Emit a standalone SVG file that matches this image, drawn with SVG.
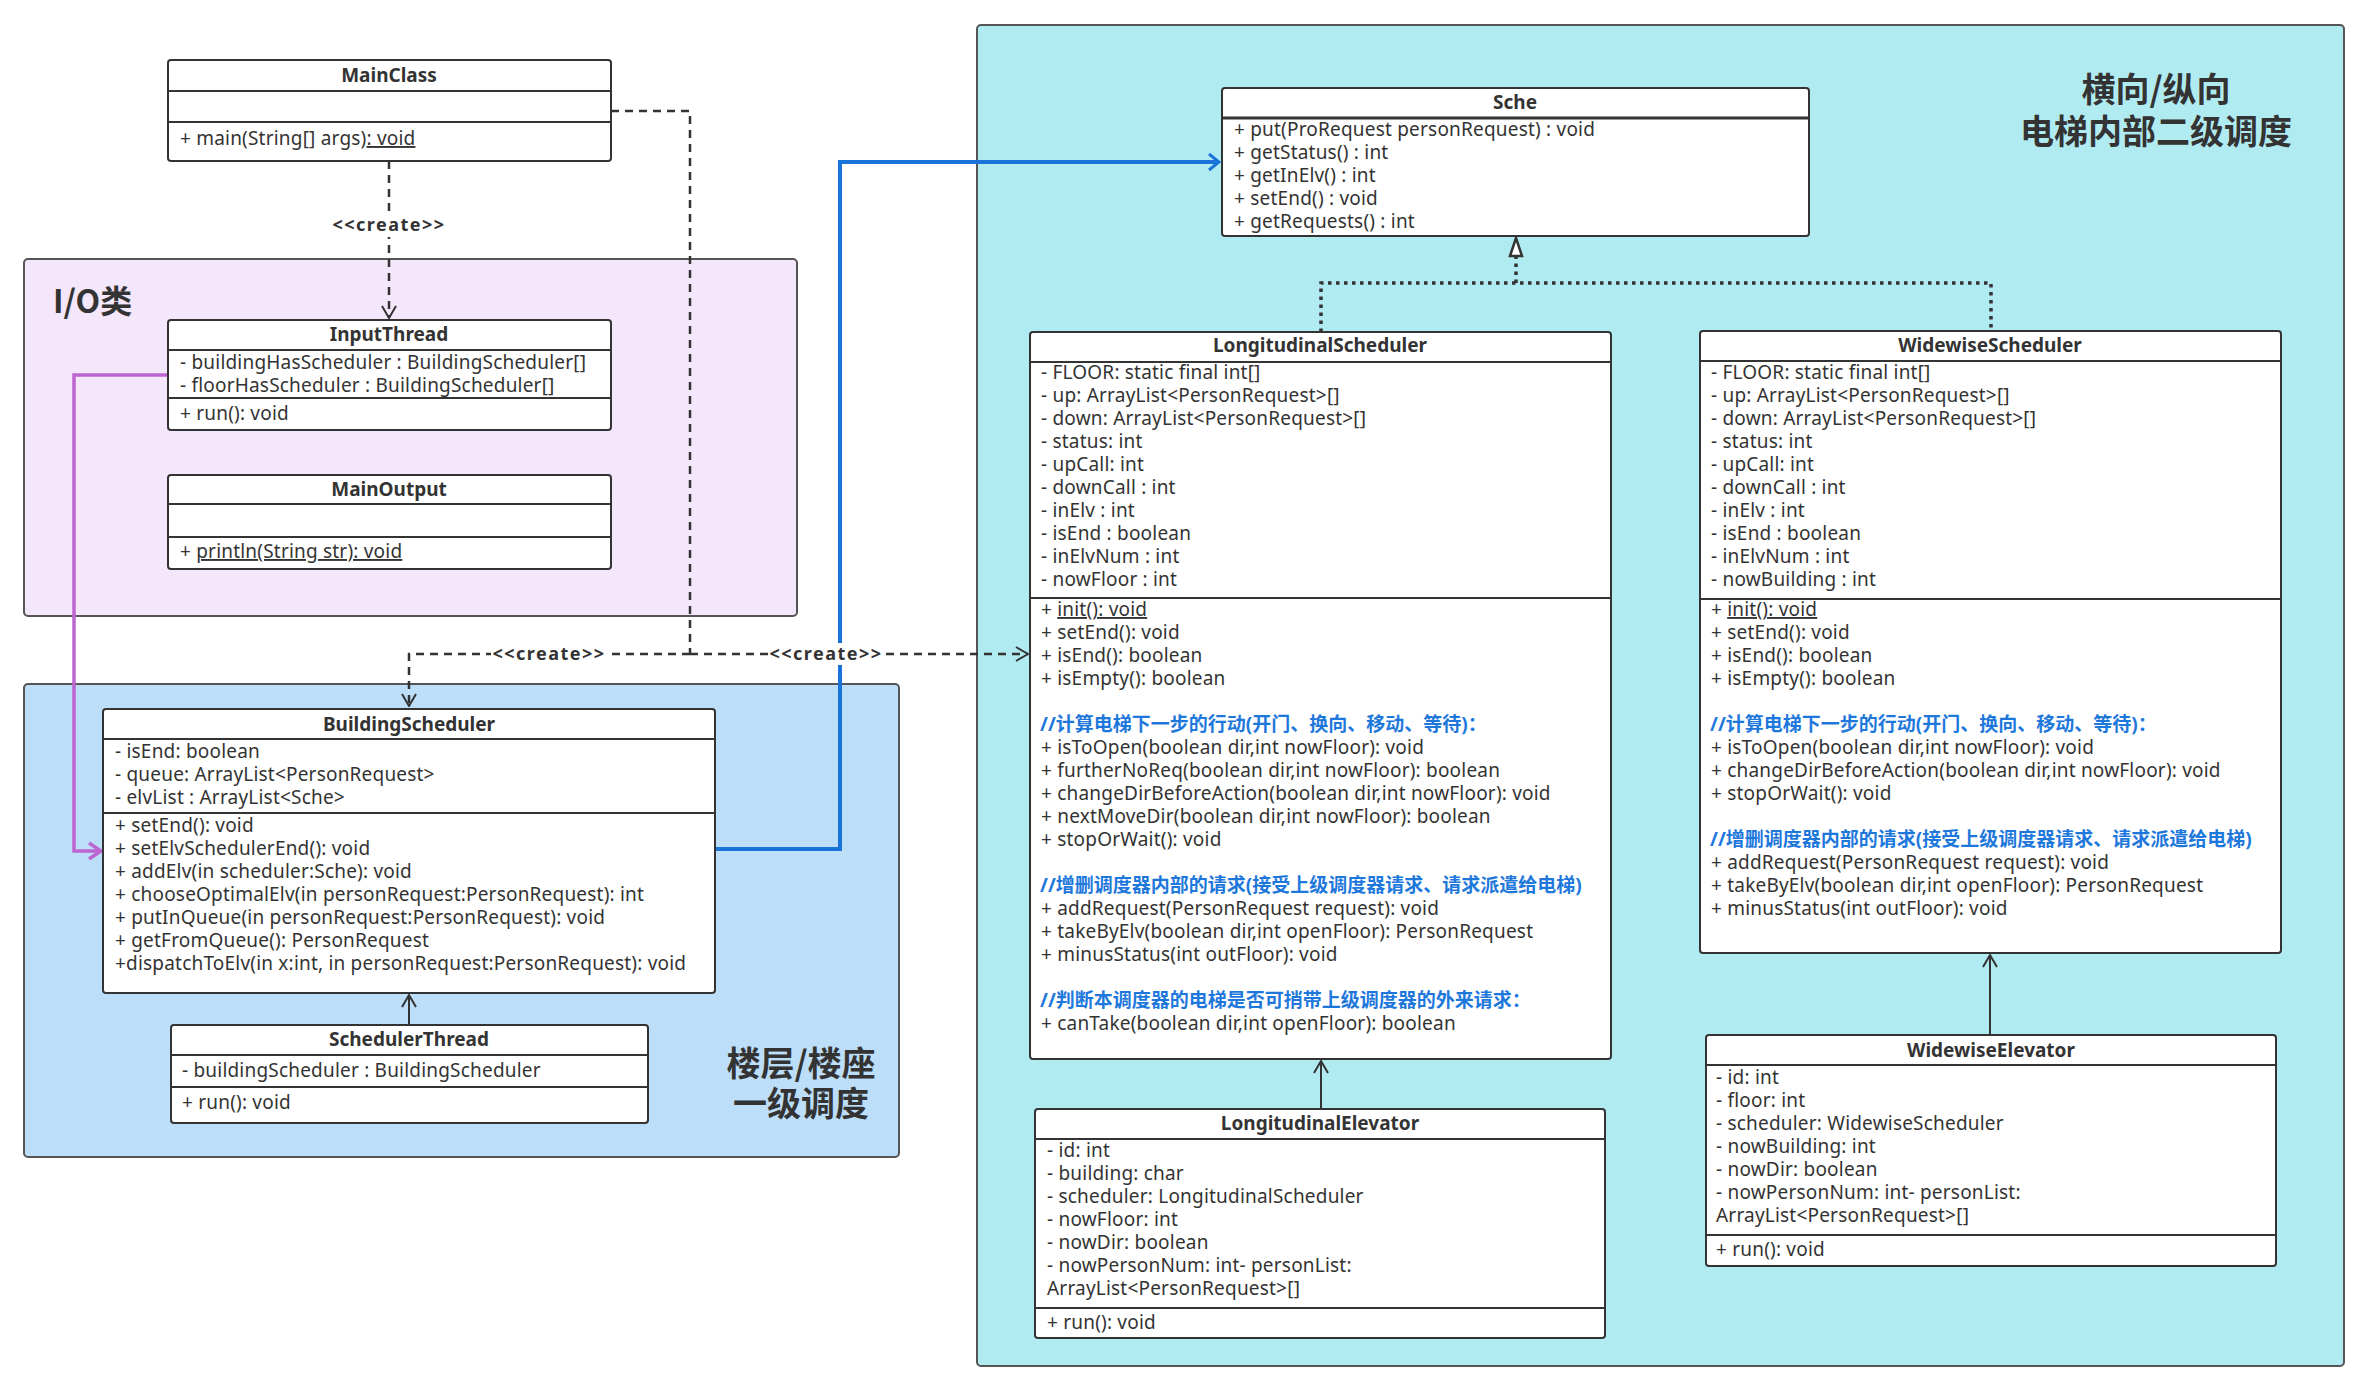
<svg xmlns="http://www.w3.org/2000/svg" width="2369" height="1390" viewBox="0 0 2369 1390">
<style>
text{font-family:"Noto Sans","Noto Sans CJK SC",sans-serif;font-size:19px;fill:#333;letter-spacing:0.2px}
.t{font-weight:bold;text-anchor:middle;letter-spacing:0}
.c{fill:#1e78dc;font-weight:bold;letter-spacing:0}
.lbl{font-weight:bold;text-anchor:middle;letter-spacing:1.5px;font-size:18px}
.grp{font-weight:bold;font-size:34px;fill:#333;text-anchor:middle;letter-spacing:0;font-family:"Noto Sans CJK SC","Noto Sans",sans-serif}
.box{fill:#fff;stroke:#333;stroke-width:2}
.dv{stroke:#333;stroke-width:2}
.u{text-decoration:underline}
.dash{fill:none;stroke:#333;stroke-width:2.5;stroke-dasharray:8 6}
.dot{fill:none;stroke:#333;stroke-width:3.5;stroke-dasharray:3.5 4.5}
.solid{fill:none;stroke:#333;stroke-width:2}
</style>
<defs>
<marker id="open" viewBox="0 0 14 16" refX="13" refY="8" markerWidth="14" markerHeight="16" orient="auto" markerUnits="userSpaceOnUse"><path d="M1,1 L13,8 L1,15" fill="none" stroke="#333" stroke-width="2"/></marker>
<marker id="openP" viewBox="0 0 16 20" refX="14" refY="10" markerWidth="16" markerHeight="20" orient="auto" markerUnits="userSpaceOnUse"><path d="M2,2 L14,10 L2,18" fill="none" stroke="#bd66d1" stroke-width="3.5"/></marker>
<marker id="openB" viewBox="0 0 14 20" refX="12" refY="10" markerWidth="14" markerHeight="20" orient="auto" markerUnits="userSpaceOnUse"><path d="M2,2 L12,10 L2,18" fill="none" stroke="#1a73d8" stroke-width="3"/></marker>
<marker id="tri" viewBox="0 0 22 16" refX="20" refY="8" markerWidth="22" markerHeight="16" orient="auto" markerUnits="userSpaceOnUse"><path d="M2,2 L20,8 L2,14 Z" fill="#fff" stroke="#333" stroke-width="2.5"/></marker>
</defs>
<rect width="2369" height="1390" fill="#fff"/>

<g id="group-io">
<rect x="24" y="259" width="773" height="357" rx="4" fill="#f4e7fb" stroke="#555" stroke-width="2"/>
<text x="53" y="313" style="font-family:'Noto Sans CJK SC',sans-serif;font-size:32px;font-weight:bold;letter-spacing:0">I/O类</text>
</g>
<g id="group-building">
<rect x="24" y="684" width="875" height="473" rx="4" fill="#bcdef9" stroke="#555" stroke-width="2"/>
<text class="grp" x="801" y="1076">楼层/楼座<tspan x="801" dy="40">一级调度</tspan></text>
</g>
<g id="group-elevator">
<rect x="977" y="25" width="1367" height="1341" rx="4" fill="#b1ebf2" stroke="#555" stroke-width="2"/>
<text class="grp" x="2156" y="102">横向/纵向<tspan x="2156" dy="42">电梯内部二级调度</tspan></text>
</g>

<g id="connectors">
<path class="dash" d="M389,161 L389,318" marker-end="url(#open)"/>
<path class="dash" d="M611,111 L690,111 L690,654"/>
<path class="dash" d="M690,654 L409,654 L409,706" marker-end="url(#open)"/>
<path class="dash" d="M690,654 L1028,654" marker-end="url(#open)"/>
<path d="M715,849 L840,849 L840,162 L1219,162" fill="none" stroke="#1a73d8" stroke-width="4" marker-end="url(#openB)"/>
<path d="M168,375 L74,375 L74,851 L101,851" fill="none" stroke="#bd66d1" stroke-width="3.5" marker-end="url(#openP)"/>
<path class="solid" d="M409,1025 L409,995" marker-end="url(#open)"/>
<path class="dot" d="M1321,332 L1321,283 L1991,283 L1991,331"/>
<path class="dot" d="M1516,283 L1516,238" marker-end="url(#tri)"/>
<path class="solid" d="M1321,1109 L1321,1061" marker-end="url(#open)"/>
<path class="solid" d="M1990,1035 L1990,955" marker-end="url(#open)"/>
<rect x="330" y="213" width="118" height="24" fill="#fff"/>
<text class="lbl" x="389" y="231">&lt;&lt;create&gt;&gt;</text>
<rect x="491" y="643" width="116" height="22" fill="#fff"/>
<text class="lbl" x="549" y="660">&lt;&lt;create&gt;&gt;</text>
<rect x="768" y="643" width="116" height="22" fill="#fff"/>
<text class="lbl" x="826" y="660">&lt;&lt;create&gt;&gt;</text>
</g>

<g id="MainClass">
<rect class="box" x="168" y="60" width="443" height="101" rx="3"/>
<line class="dv" x1="168" y1="91" x2="611" y2="91"/>
<line class="dv" x1="168" y1="122" x2="611" y2="122"/>
<text class="t" x="389" y="82">MainClass</text>
<text x="180" y="145">+ main(String[] args)<tspan class="u">: void</tspan></text>
</g>

<g id="InputThread">
<rect class="box" x="168" y="320" width="443" height="110" rx="3"/>
<line class="dv" x1="168" y1="350" x2="611" y2="350"/>
<line class="dv" x1="168" y1="398" x2="611" y2="398"/>
<text class="t" x="389" y="341">InputThread</text>
<text x="180" y="369">- buildingHasScheduler : BuildingScheduler[]</text>
<text x="180" y="392">- floorHasScheduler : BuildingScheduler[]</text>
<text x="180" y="420">+ run(): void</text>
</g>

<g id="MainOutput">
<rect class="box" x="168" y="475" width="443" height="94" rx="3"/>
<line class="dv" x1="168" y1="504" x2="611" y2="504"/>
<line class="dv" x1="168" y1="537" x2="611" y2="537"/>
<text class="t" x="389" y="496">MainOutput</text>
<text x="180" y="558">+ <tspan class="u">println(String str): void</tspan></text>
</g>

<g id="BuildingScheduler">
<rect class="box" x="103" y="709" width="612" height="284" rx="3"/>
<line class="dv" x1="103" y1="739" x2="715" y2="739"/>
<line class="dv" x1="103" y1="813" x2="715" y2="813"/>
<text class="t" x="409" y="731">BuildingScheduler</text>
<text x="115" y="758">- isEnd: boolean</text>
<text x="115" y="781">- queue: ArrayList&lt;PersonRequest&gt;</text>
<text x="115" y="804">- elvList : ArrayList&lt;Sche&gt;</text>
<text x="115" y="832">+ setEnd(): void</text>
<text x="115" y="855">+ setElvSchedulerEnd(): void</text>
<text x="115" y="878">+ addElv(in scheduler:Sche): void</text>
<text x="115" y="901">+ chooseOptimalElv(in personRequest:PersonRequest): int</text>
<text x="115" y="924">+ putInQueue(in personRequest:PersonRequest): void</text>
<text x="115" y="947">+ getFromQueue(): PersonRequest</text>
<text x="115" y="970">+dispatchToElv(in x:int, in personRequest:PersonRequest): void</text>
</g>

<g id="SchedulerThread">
<rect class="box" x="171" y="1025" width="477" height="98" rx="3"/>
<line class="dv" x1="171" y1="1055" x2="648" y2="1055"/>
<line class="dv" x1="171" y1="1087" x2="648" y2="1087"/>
<text class="t" x="409" y="1046">SchedulerThread</text>
<text x="182" y="1077">- buildingScheduler : BuildingScheduler</text>
<text x="182" y="1109">+ run(): void</text>
</g>

<g id="Sche">
<rect class="box" x="1222" y="88" width="587" height="148" rx="3"/>
<line x1="1222" y1="118" x2="1809" y2="118" stroke="#333" stroke-width="3"/>
<text class="t" x="1515" y="109">Sche</text>
<text x="1234" y="136">+ put(ProRequest personRequest) : void</text>
<text x="1234" y="159">+ getStatus() : int</text>
<text x="1234" y="182">+ getInElv() : int</text>
<text x="1234" y="205">+ setEnd() : void</text>
<text x="1234" y="228">+ getRequests() : int</text>
</g>

<g id="LongitudinalScheduler">
<rect class="box" x="1030" y="332" width="581" height="727" rx="3"/>
<line class="dv" x1="1030" y1="362" x2="1611" y2="362"/>
<line class="dv" x1="1030" y1="598" x2="1611" y2="598"/>
<text class="t" x="1320" y="352">LongitudinalScheduler</text>
<text x="1041" y="379">- FLOOR: static final int[]</text>
<text x="1041" y="402">- up: ArrayList&lt;PersonRequest&gt;[]</text>
<text x="1041" y="425">- down: ArrayList&lt;PersonRequest&gt;[]</text>
<text x="1041" y="448">- status: int</text>
<text x="1041" y="471">- upCall: int</text>
<text x="1041" y="494">- downCall : int</text>
<text x="1041" y="517">- inElv : int</text>
<text x="1041" y="540">- isEnd : boolean</text>
<text x="1041" y="563">- inElvNum : int</text>
<text x="1041" y="586">- nowFloor : int</text>
<text x="1041" y="616">+ <tspan class="u">init(): void</tspan></text>
<text x="1041" y="639">+ setEnd(): void</text>
<text x="1041" y="662">+ isEnd(): boolean</text>
<text x="1041" y="685">+ isEmpty(): boolean</text>
<text class="c" x="1040" y="731">//计算电梯下一步的行动(开门、换向、移动、等待)：</text>
<text x="1041" y="754">+ isToOpen(boolean dir,int nowFloor): void</text>
<text x="1041" y="777">+ furtherNoReq(boolean dir,int nowFloor): boolean</text>
<text x="1041" y="800">+ changeDirBeforeAction(boolean dir,int nowFloor): void</text>
<text x="1041" y="823">+ nextMoveDir(boolean dir,int nowFloor): boolean</text>
<text x="1041" y="846">+ stopOrWait(): void</text>
<text class="c" x="1040" y="892">//增删调度器内部的请求(接受上级调度器请求、请求派遣给电梯)</text>
<text x="1041" y="915">+ addRequest(PersonRequest request): void</text>
<text x="1041" y="938">+ takeByElv(boolean dir,int openFloor): PersonRequest</text>
<text x="1041" y="961">+ minusStatus(int outFloor): void</text>
<text class="c" x="1040" y="1007">//判断本调度器的电梯是否可捎带上级调度器的外来请求：</text>
<text x="1041" y="1030">+ canTake(boolean dir,int openFloor): boolean</text>
</g>

<g id="WidewiseScheduler">
<rect class="box" x="1700" y="331" width="581" height="622" rx="3"/>
<line class="dv" x1="1700" y1="361" x2="2281" y2="361"/>
<line class="dv" x1="1700" y1="599" x2="2281" y2="599"/>
<text class="t" x="1990" y="352">WidewiseScheduler</text>
<text x="1711" y="379">- FLOOR: static final int[]</text>
<text x="1711" y="402">- up: ArrayList&lt;PersonRequest&gt;[]</text>
<text x="1711" y="425">- down: ArrayList&lt;PersonRequest&gt;[]</text>
<text x="1711" y="448">- status: int</text>
<text x="1711" y="471">- upCall: int</text>
<text x="1711" y="494">- downCall : int</text>
<text x="1711" y="517">- inElv : int</text>
<text x="1711" y="540">- isEnd : boolean</text>
<text x="1711" y="563">- inElvNum : int</text>
<text x="1711" y="586">- nowBuilding : int</text>
<text x="1711" y="616">+ <tspan class="u">init(): void</tspan></text>
<text x="1711" y="639">+ setEnd(): void</text>
<text x="1711" y="662">+ isEnd(): boolean</text>
<text x="1711" y="685">+ isEmpty(): boolean</text>
<text class="c" x="1710" y="731">//计算电梯下一步的行动(开门、换向、移动、等待)：</text>
<text x="1711" y="754">+ isToOpen(boolean dir,int nowFloor): void</text>
<text x="1711" y="777">+ changeDirBeforeAction(boolean dir,int nowFloor): void</text>
<text x="1711" y="800">+ stopOrWait(): void</text>
<text class="c" x="1710" y="846">//增删调度器内部的请求(接受上级调度器请求、请求派遣给电梯)</text>
<text x="1711" y="869">+ addRequest(PersonRequest request): void</text>
<text x="1711" y="892">+ takeByElv(boolean dir,int openFloor): PersonRequest</text>
<text x="1711" y="915">+ minusStatus(int outFloor): void</text>
</g>

<g id="LongitudinalElevator">
<rect class="box" x="1035" y="1109" width="570" height="229" rx="3"/>
<line class="dv" x1="1035" y1="1139" x2="1605" y2="1139"/>
<line class="dv" x1="1035" y1="1308" x2="1605" y2="1308"/>
<text class="t" x="1320" y="1130">LongitudinalElevator</text>
<text x="1047" y="1157">- id: int</text>
<text x="1047" y="1180">- building: char</text>
<text x="1047" y="1203">- scheduler: LongitudinalScheduler</text>
<text x="1047" y="1226">- nowFloor: int</text>
<text x="1047" y="1249">- nowDir: boolean</text>
<text x="1047" y="1272">- nowPersonNum: int- personList:</text>
<text x="1047" y="1295">ArrayList&lt;PersonRequest&gt;[]</text>
<text x="1047" y="1329">+ run(): void</text>
</g>

<g id="WidewiseElevator">
<rect class="box" x="1706" y="1035" width="570" height="231" rx="3"/>
<line class="dv" x1="1706" y1="1065" x2="2276" y2="1065"/>
<line class="dv" x1="1706" y1="1235" x2="2276" y2="1235"/>
<text class="t" x="1991" y="1057">WidewiseElevator</text>
<text x="1716" y="1084">- id: int</text>
<text x="1716" y="1107">- floor: int</text>
<text x="1716" y="1130">- scheduler: WidewiseScheduler</text>
<text x="1716" y="1153">- nowBuilding: int</text>
<text x="1716" y="1176">- nowDir: boolean</text>
<text x="1716" y="1199">- nowPersonNum: int- personList:</text>
<text x="1716" y="1222">ArrayList&lt;PersonRequest&gt;[]</text>
<text x="1716" y="1256">+ run(): void</text>
</g>
</svg>
